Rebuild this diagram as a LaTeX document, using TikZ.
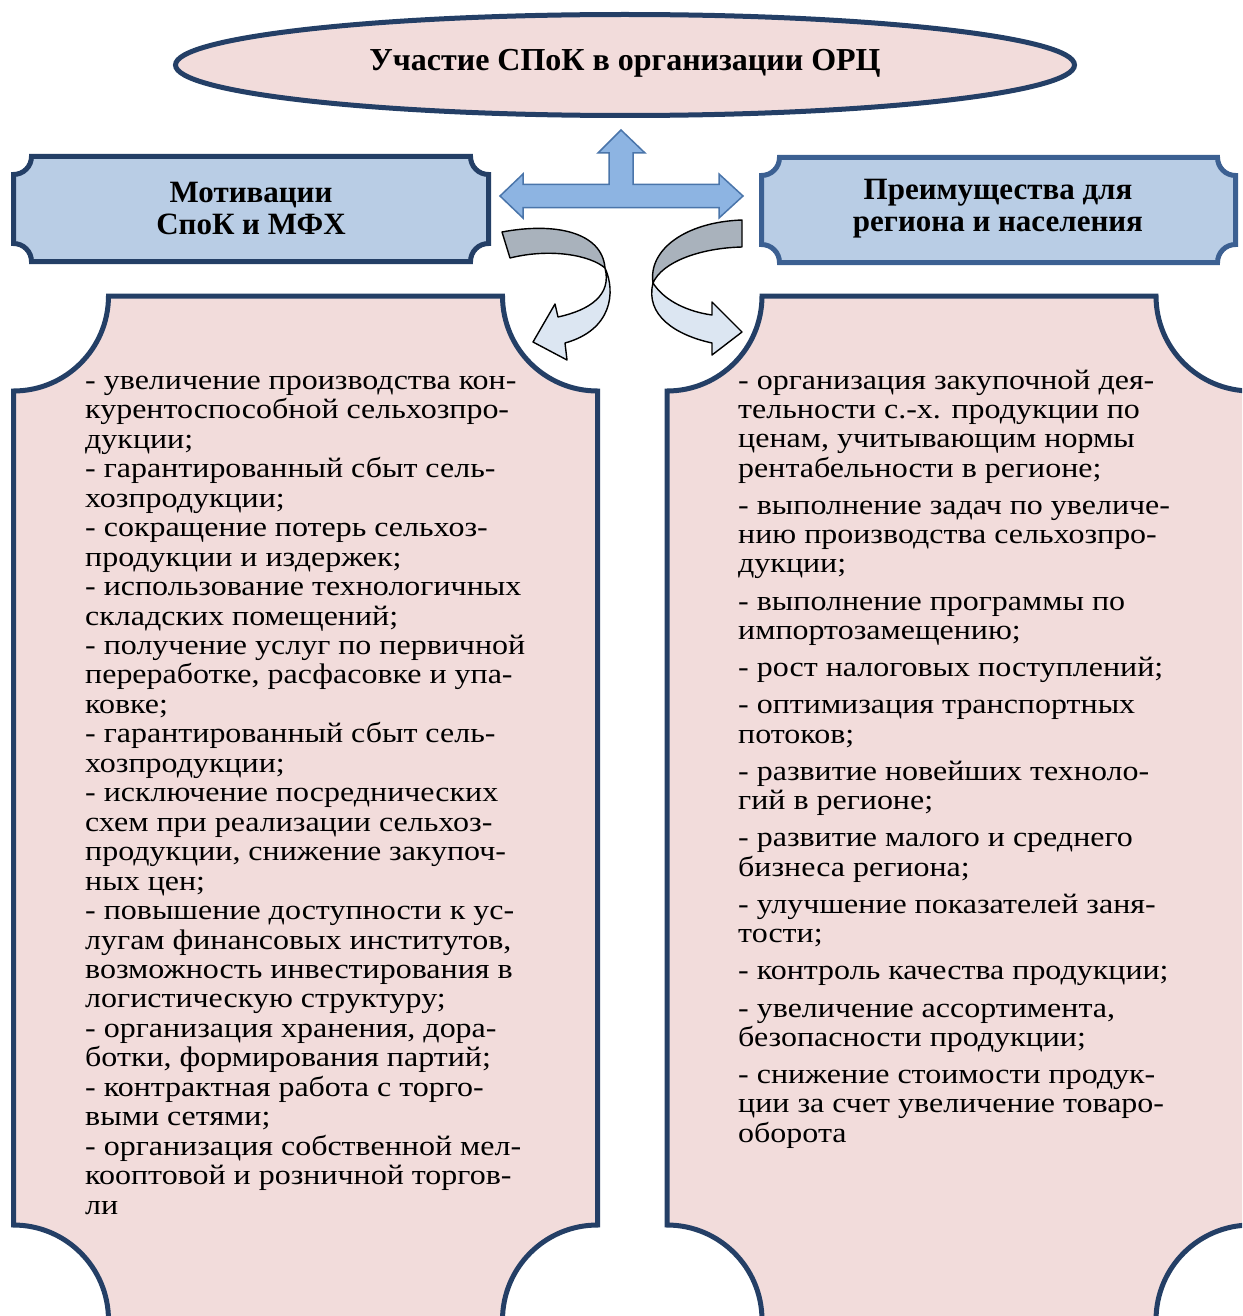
\documentclass[tikz,border=0pt]{standalone}
\usepackage{fontspec}
\setmainfont{Liberation Serif}
\newfontfamily\bodyfont[FakeStretch=1.13]{Liberation Serif}
\usetikzlibrary{shapes.geometric}
\definecolor{pinkfill}{HTML}{F2DCDB}
\definecolor{headfill}{HTML}{B9CDE5}
\definecolor{navy}{HTML}{243F66}
\definecolor{navyB}{HTML}{3C6092}
\definecolor{arrowfill}{HTML}{8DB4E2}
\definecolor{arrowline}{HTML}{4A75AA}
\definecolor{ribbongray}{HTML}{A9B2BC}
\definecolor{ribbonblue}{HTML}{DCE6F2}
\newcommand\plaquepath[5]{(#1+#5,-#2) -- (#3-#5,-#2) arc[start angle=180,end angle=270,radius=#5] -- (#3,-#4+#5) arc[start angle=90,end angle=180,radius=#5] -- (#1+#5,-#4) arc[start angle=0,end angle=90,radius=#5] -- (#1,-#2-#5) arc[start angle=270,end angle=360,radius=#5] -- cycle}
\tikzset{
  panel/.style={draw=navy, line width=5pt, fill=pinkfill},
  headbox/.style={line width=5pt, fill=headfill},
  headtext/.style={font=\fontsize{31}{32}\selectfont\bfseries, align=center, inner sep=0pt},
  bodytext/.style={align=left, inner sep=0pt, anchor=north west},
  blockarrow/.style={fill=arrowfill, draw=arrowline, line width=1.5pt, line join=miter},
  ribbon/.style={draw=black, line width=1.4pt, line join=round}
}
\begin{document}
\begin{tikzpicture}[x=1pt,y=1pt]
\useasboundingbox (0,0) rectangle (1242,-1316);
\clip (0,0) rectangle (1242,-1316);
\fill[white] (0,0) rectangle (1242,-1316);

% title ellipse
\node[ellipse, draw=navy, line width=5pt, fill=pinkfill, minimum width=899pt, minimum height=101pt, inner sep=0pt] (title) at (625,-65) {};
\node[font=\fontsize{32}{33}\selectfont\bfseries, inner sep=0pt] (titletext) at (625,-63) {Участие СПоК в организации ОРЦ};

% header boxes
\draw[headbox, draw=navy] \plaquepath{13.5}{156.5}{488.5}{261.5}{18};
\node[headtext] (lhead) at (251,-209) {Мотивации\\СпоК и МФХ};
\draw[headbox, draw=navyB] \plaquepath{761.5}{157.5}{1235.5}{262.5}{18};
\node[headtext] (rhead) at (998,-209) {Преимущества для\\региона и населения};

% big panels
\draw[panel] \plaquepath{13.5}{296}{597.5}{1320}{95};
\draw[panel] \plaquepath{667}{296}{1251}{1320}{95};

% three-way block arrow
\draw[blockarrow] (500,-196) -- (523,-174) -- (523,-184.5) -- (609,-184.5) -- (609,-153) -- (598,-153) -- (621,-130) -- (645,-153) -- (633,-153) -- (633,-184.5) -- (719,-184.5) -- (719,-174) -- (743,-196) -- (719,-218) -- (719,-207.5) -- (523,-207.5) -- (523,-218) -- cycle;

% left curved ribbon arrow
\draw[ribbon, fill=ribbongray] (502,-232) .. controls (555,-222) and (602,-232) .. (605,-268) .. controls (590,-255) and (550,-248) .. (510,-258) -- cycle;
\draw[ribbon, fill=ribbonblue] (605,-268) .. controls (616,-292) and (612,-330) .. (565,-343) -- (567,-360) -- (533,-342) -- (555,-304) -- (558,-317) .. controls (590,-310) and (612,-295) .. (605,-268) -- cycle;

% right curved ribbon arrow
\draw[ribbon, fill=ribbongray] (742,-220) -- (742,-247) .. controls (700,-248) and (662,-262) .. (653,-283) .. controls (648,-250) and (685,-222) .. (742,-220) -- cycle;
\draw[ribbon, fill=ribbonblue] (653,-283) .. controls (665,-302) and (690,-312) .. (712,-315) -- (712,-302) -- (742,-332) -- (712,-355) -- (712,-343) .. controls (675,-335) and (645,-315) .. (653,-283) -- cycle;

% texts
\node[bodytext, font=\bodyfont\fontsize{28.3}{29.46}\selectfont] (ltext) at (85,-368.5) {\strut- увеличение производства кон-\\
курентоспособной сельхозпро-\\
дукции;\\
- гарантированный сбыт сель-\\
хозпродукции;\\
- сокращение потерь сельхоз-\\
продукции и издержек;\\
- использование технологичных\\
складских помещений;\\
- получение услуг по первичной\\
переработке, расфасовке и упа-\\
ковке;\\
- гарантированный сбыт сель-\\
хозпродукции;\\
- исключение посреднических\\
схем при реализации сельхоз-\\
продукции, снижение закупоч-\\
ных цен;\\
- повышение доступности к ус-\\
лугам финансовых институтов,\\
возможность инвестирования в\\
логистическую структуру;\\
- организация хранения, дора-\\
ботки, формирования партий;\\
- контрактная работа с торго-\\
выми сетями;\\
- организация собственной мел-\\
кооптовой и розничной торгов-\\
ли};

\node[bodytext, font=\bodyfont\fontsize{28.3}{29.3}\selectfont] (rtext) at (738,-368.5) {\strut- организация закупочной дея-\\
тельности с.-х. продукции по\\
ценам, учитывающим нормы\\
рентабельности в регионе;\\[7.9pt]
- выполнение задач по увеличе-\\
нию производства сельхозпро-\\
дукции;\\[7.9pt]
- выполнение программы по\\
импортозамещению;\\[7.9pt]
- рост налоговых поступлений;\\[7.9pt]
- оптимизация транспортных\\
потоков;\\[7.9pt]
- развитие новейших техноло-\\
гий в регионе;\\[7.9pt]
- развитие малого и среднего\\
бизнеса региона;\\[7.9pt]
- улучшение показателей заня-\\
тости;\\[7.9pt]
- контроль качества продукции;\\[7.9pt]
- увеличение ассортимента,\\
безопасности продукции;\\[7.9pt]
- снижение стоимости продук-\\
ции за счет увеличение товаро-\\
оборота};
\end{tikzpicture}
\end{document}
